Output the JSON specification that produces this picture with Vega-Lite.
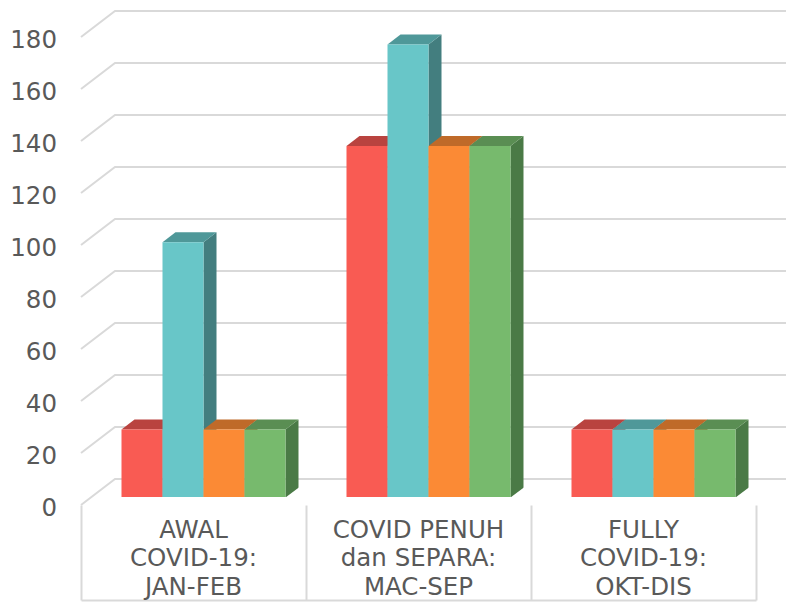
{
  "$schema": "https://vega.github.io/schema/vega-lite/v6.json",
  "autosize": {"type": "none"},
  "padding": {"left": 91, "top": 29, "right": 20, "bottom": 105},
  "width": 675,
  "height": 468,
  "background": "#ffffff",
  "config": {
    "view": {"stroke": null},
    "font": "DejaVu Sans",
    "axis": {"labelColor": "#595959", "labelFont": "DejaVu Sans", "title": null}
  },
  "datasets": {
    "bars": [
      {"group": "AWAL\nCOVID-19:\nJAN-FEB", "series": "Siri 1", "value": 26},
      {"group": "AWAL\nCOVID-19:\nJAN-FEB", "series": "Siri 2", "value": 98},
      {"group": "AWAL\nCOVID-19:\nJAN-FEB", "series": "Siri 3", "value": 26},
      {"group": "AWAL\nCOVID-19:\nJAN-FEB", "series": "Siri 4", "value": 26},
      {"group": "COVID PENUH\ndan SEPARA:\nMAC-SEP", "series": "Siri 1", "value": 135},
      {"group": "COVID PENUH\ndan SEPARA:\nMAC-SEP", "series": "Siri 2", "value": 174},
      {"group": "COVID PENUH\ndan SEPARA:\nMAC-SEP", "series": "Siri 3", "value": 135},
      {"group": "COVID PENUH\ndan SEPARA:\nMAC-SEP", "series": "Siri 4", "value": 135},
      {"group": "FULLY\nCOVID-19:\nOKT-DIS", "series": "Siri 1", "value": 26},
      {"group": "FULLY\nCOVID-19:\nOKT-DIS", "series": "Siri 2", "value": 26},
      {"group": "FULLY\nCOVID-19:\nOKT-DIS", "series": "Siri 3", "value": 26},
      {"group": "FULLY\nCOVID-19:\nOKT-DIS", "series": "Siri 4", "value": 26}
    ],
    "ticks": [
      {"tick": 0}, {"tick": 20}, {"tick": 40}, {"tick": 60}, {"tick": 80},
      {"tick": 100}, {"tick": 120}, {"tick": 140}, {"tick": 160}, {"tick": 180}
    ]
  },
  "resolve": {
    "axis": {"x": "independent", "y": "independent"},
    "scale": {"color": "independent"}
  },
  "layer": [
    {
      "data": {"name": "ticks"},
      "mark": {"type": "point", "shape": "M-10,8L24,-18L720,-18", "size": 4, "filled": false, "stroke": "#d9d9d9", "strokeWidth": 2, "opacity": 1},
      "encoding": {
        "x": {"datum": "AWAL\nCOVID-19:\nJAN-FEB", "type": "nominal", "bandPosition": 0,
              "scale": {"type": "band", "paddingInner": 0, "paddingOuter": 0}, "axis": null},
        "y": {"field": "tick", "type": "quantitative",
              "scale": {"domain": [0, 180], "nice": false, "zero": true}, "axis": null}
      }
    },
    {
      "data": {"name": "bars"},
      "mark": {"type": "point", "shape": "M20.5,0L33.5,-10L33.5,600L20.5,600Z", "size": 4, "filled": true, "opacity": 1, "clip": true},
      "encoding": {
        "x": {"field": "group", "type": "nominal", "sort": null,
              "axis": {"orient": "bottom", "offset": 103, "position": -10, "labels": false, "grid": false,
                       "ticks": true, "tickBand": "extent", "tickSize": -95, "tickColor": "#d9d9d9", "tickWidth": 2,
                       "domain": true, "domainColor": "#d9d9d9", "domainWidth": 2, "title": null}},
        "xOffset": {"field": "series", "type": "nominal", "sort": null,
                    "scale": {"type": "band", "paddingInner": 0, "paddingOuter": 0.744}},
        "y": {"field": "value", "type": "quantitative", "axis": null},
        "color": {"field": "series", "type": "nominal", "sort": null, "legend": null,
                  "scale": {"range": ["#9B3834", "#437E7F", "#A05A22", "#4A7A46"]}}
      }
    },
    {
      "data": {"name": "bars"},
      "mark": {"type": "point", "shape": "M20.5,0.5L34.5,0.5L34.5,-10Z", "size": 4, "filled": true, "opacity": 1, "color": "#ffffff"},
      "encoding": {
        "x": {"field": "group", "type": "nominal", "sort": null, "axis": null},
        "xOffset": {"field": "series", "type": "nominal", "sort": null},
        "y": {"datum": 0, "type": "quantitative", "axis": null}
      }
    },
    {
      "data": {"name": "bars"},
      "mark": {"type": "point", "shape": "M-20.5,0L20.5,0L33.5,-10L-7.5,-10Z", "size": 4, "filled": true, "opacity": 1},
      "encoding": {
        "x": {"field": "group", "type": "nominal", "sort": null, "axis": null},
        "xOffset": {"field": "series", "type": "nominal", "sort": null},
        "y": {"field": "value", "type": "quantitative", "axis": null},
        "color": {"field": "series", "type": "nominal", "sort": null, "legend": null,
                  "scale": {"range": ["#B9433F", "#4F9899", "#BF6A29", "#5A8E53"]}}
      }
    },
    {
      "data": {"name": "bars"},
      "mark": {"type": "bar", "opacity": 1},
      "encoding": {
        "x": {"field": "group", "type": "nominal", "sort": null,
              "axis": {"orient": "bottom", "offset": 8, "position": -10, "ticks": false, "domain": false, "grid": false,
                       "labelAngle": 0, "labelFontSize": 24.5, "labelBaseline": "top", "labelPadding": 13,
                       "labelLineHeight": 28.5, "labelExpr": "split(datum.value, '\\n')", "title": null}},
        "xOffset": {"field": "series", "type": "nominal", "sort": null},
        "y": {"field": "value", "type": "quantitative",
              "axis": {"orient": "left", "values": [0, 20, 40, 60, 80, 100, 120, 140, 160, 180],
                       "grid": false, "ticks": false, "tickSize": 0, "domain": false, "translate": 0, "position": 11.5,
                       "labelPadding": 34, "labelFontSize": 24.5, "title": null}},
        "color": {"field": "series", "type": "nominal", "sort": null, "legend": null,
                  "scale": {"range": ["#F95B53", "#68C6C8", "#FB8A35", "#77BA6D"]}}
      }
    }
  ]
}
